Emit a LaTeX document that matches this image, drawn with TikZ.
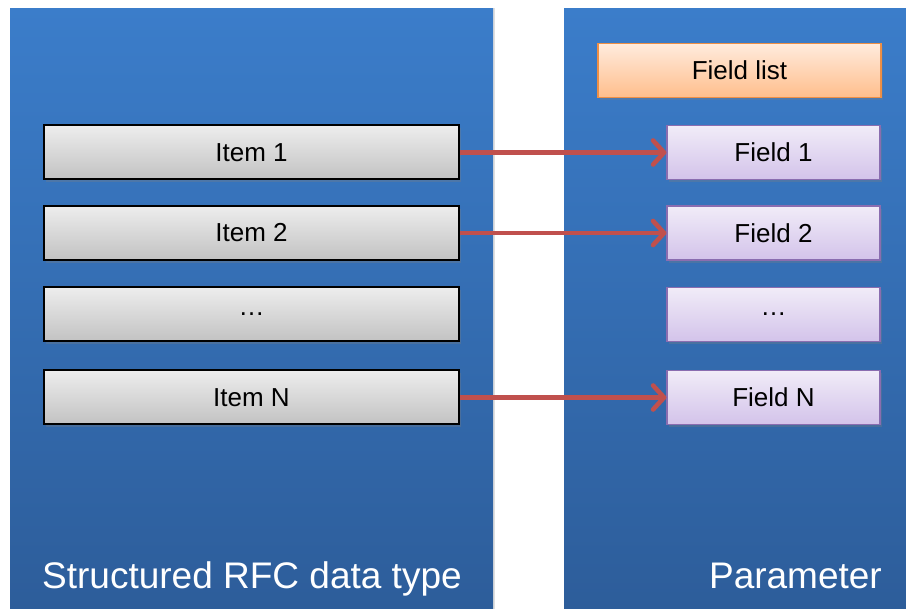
\documentclass[tikz,border=0pt]{standalone}
\usepackage{fontspec}
\setmainfont{Liberation Sans}
\usepackage{tikz}
\usetikzlibrary{arrows.meta,shadows}
\definecolor{paneltop}{HTML}{3B7DCA}
\definecolor{panelbot}{HTML}{2D5D9A}
\definecolor{itemtop}{HTML}{EDEDED}
\definecolor{itembot}{HTML}{C2C2C2}
\definecolor{fieldtop}{HTML}{F1ECF8}
\definecolor{fieldbot}{HTML}{D3C3EA}
\definecolor{fieldline}{HTML}{8A6DB0}
\definecolor{listtop}{HTML}{FFEBDD}
\definecolor{listbot}{HTML}{FFBE8C}
\definecolor{listline}{HTML}{EE8F45}
\definecolor{linkred}{HTML}{C0504D}
\tikzset{panel/.style={anchor=north west,inner sep=0pt,top color=paneltop,bottom color=panelbot,draw=none,drop shadow={opacity=.25,shadow xshift=2pt,shadow yshift=0pt}},item/.style={draw=black,line width=2pt,top color=itemtop,bottom color=itembot,minimum width=415pt,minimum height=54pt,inner sep=0pt,font=\fontsize{26}{30}\selectfont,drop shadow={opacity=.3,shadow xshift=2pt,shadow yshift=-3pt}},field/.style={item,draw=fieldline,line width=1.2pt,top color=fieldtop,bottom color=fieldbot,minimum width=213pt},fieldlist/.style={item,draw=listline,line width=1.2pt,top color=listtop,bottom color=listbot,minimum width=283pt},link/.style={-{Straight Barb[length=11pt,width=24pt,round]},draw=linkred,line width=4.6pt},title/.style={text=white,font=\fontsize{37}{42}\selectfont,inner sep=0pt}}

\begin{document}
\begin{tikzpicture}[x=1pt,y=-1pt]
\useasboundingbox (0,0) rectangle (906,609);
% the two panels
\node[panel,minimum width=483pt,minimum height=602pt] (rfc) at (10,8) {};
\node[panel,minimum width=345pt,minimum height=602pt] (param) at (564,8) {};
\node[title,anchor=base west] (rfctitle) at (42,589) {Structured RFC data type};
\node[title,anchor=base east] (paramtitle) at (882,589) {Parameter};
\node[fieldlist] (flist) at (739.5,70.5) {Field list};
% items and fields
\foreach \y/\id/\itxt/\ftxt in {152.5/1/Item 1/Field 1,233/2/Item 2/Field 2,314.5/3/…/…,397.5/4/Item N/Field N}{
\node[item] (item\id) at (251.5,\y) {\itxt};
\node[field] (field\id) at (773.5,\y) {\ftxt};}
\foreach \id in {1,2,4}{\draw[link] (item\id.east)--(field\id.west);}
\end{tikzpicture}
\end{document}
